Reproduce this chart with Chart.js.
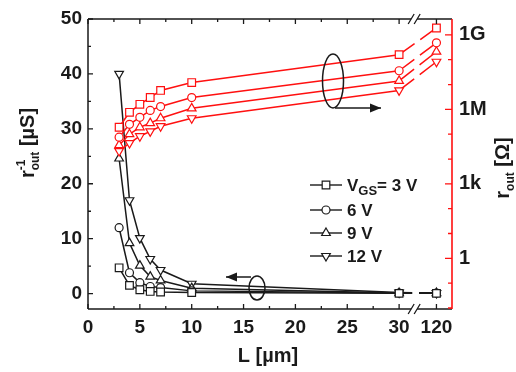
<!DOCTYPE html>
<html><head><meta charset="utf-8">
<script src="https://cdn.jsdelivr.net/npm/chart.js@4.4.0/dist/chart.umd.min.js"></script>
<style>html,body{margin:0;padding:0;background:#fff}#wrap{width:516px;height:372px}</style>
</head><body><div id="wrap"><canvas id="c" width="516" height="372"></canvas></div>
<script>
// ---- data ----
const L_UM = [3, 4, 5, 6, 7, 10, 30, 120];
// r_out^-1 [µS] (left axis, black)
const G_3V  = [4.7, 1.5, 0.7, 0.4, 0.3, 0.2, 0.05, 0.05];
const G_6V  = [12.0, 3.8, 2.0, 1.3, 1.1, 0.5, 0.1, 0.1];
const G_9V  = [24.6, 9.2, 5.1, 3.1, 2.4, 1.0, 0.1, 0.1];
const G_12V = [40.0, 17.0, 10.1, 6.3, 4.3, 1.8, 0.2, 0.1];
// r_out [Ohm] (right log axis, red)
const R_3V  = [1.9e5, 7.6e5, 1.6e6, 3.0e6, 5.8e6, 1.2e7, 1.6e8, 1.9e9];
const R_6V  = [7.6e4, 2.5e5, 4.8e5, 9.1e5, 1.3e6, 3.0e6, 3.6e7, 4.8e8];
const R_9V  = [3.6e4, 1.0e5, 1.9e5, 2.8e5, 4.4e5, 1.1e6, 1.4e7, 2.1e8];
const R_12V = [2.1e4, 4.4e4, 8.3e4, 1.3e5, 2.1e5, 4.4e5, 5.8e6, 8.3e7];
const X_TICKS = [0, 5, 10, 15, 20, 25, 30, 120];
const Y_TICKS = [0, 10, 20, 30, 40, 50];
const R_TICKS = [1, 1e3, 1e6, 1e9];
const R_TICK_LABELS = ['1', '1k', '1M', '1G'];
const VGS_LABELS = ['3 V', '6 V', '9 V', '12 V'];

// broken x axis: values above 30 are compressed
const BREAK_FROM = 30, BREAK_SCALE = 0.04;
function xPos(L) { return L <= BREAK_FROM ? L : BREAK_FROM + (L - BREAK_FROM) * BREAK_SCALE; }
const BREAK_POS = 31.45;

const STYLES = [
  {ps: 'rect', r: 5.4, rot: 0},
  {ps: 'circle', r: 4.0, rot: 0},
  {ps: 'triangle', r: 5.0, rot: 0},
  {ps: 'triangle', r: 5.0, rot: 180}
];
const RED = '#ff1010', BLK = '#1a1a1a';
const FONT = '"Liberation Sans", Arial, sans-serif';

function mk(vals, i, color, axis, dash) {
  const s = STYLES[i];
  return {
    data: L_UM.map((L, k) => ({x: xPos(L), y: vals[k]})),
    yAxisID: axis,
    borderColor: color, backgroundColor: '#fff',
    borderWidth: 1.5, pointBorderWidth: 1.2,
    pointStyle: s.ps, pointRadius: s.r, pointRotation: s.rot,
    pointBackgroundColor: '#fff', pointBorderColor: color,
    tension: 0,
    segment: { borderDash: c => c.p1DataIndex === L_UM.length - 1 ? dash : undefined }
  };
}
const redDash = [19, 7, 200, 0], blkDash = [13, 7, 200, 0];
const datasets = [
  mk(R_3V, 0, RED, 'y2', redDash), mk(R_6V, 1, RED, 'y2', redDash),
  mk(R_9V, 2, RED, 'y2', redDash), mk(R_12V, 3, RED, 'y2', redDash),
  mk(G_3V, 0, BLK, 'y', blkDash), mk(G_6V, 1, BLK, 'y', blkDash),
  mk(G_9V, 2, BLK, 'y', blkDash), mk(G_12V, 3, BLK, 'y', blkDash)
];

function drawMarker(ctx, s, x, y, color) {
  ctx.save();
  ctx.strokeStyle = color; ctx.fillStyle = '#fff'; ctx.lineWidth = 1.2;
  ctx.beginPath();
  if (s.ps === 'rect') { const h = s.r * Math.SQRT1_2; ctx.rect(x - h, y - h, 2 * h, 2 * h); }
  else if (s.ps === 'circle') { ctx.arc(x, y, s.r, 0, Math.PI * 2); }
  else {
    const r = s.r, dir = s.rot ? -1 : 1;
    ctx.moveTo(x, y - dir * r);
    ctx.lineTo(x + r * 0.866, y + dir * r * 0.5);
    ctx.lineTo(x - r * 0.866, y + dir * r * 0.5);
    ctx.closePath();
  }
  ctx.fill(); ctx.stroke(); ctx.restore();
}

function richText(ctx, parts, x, y, align) {
  let total = 0; const widths = [];
  for (let i = 0; i < parts.length; i++) {
    const p = parts[i];
    ctx.font = 'bold ' + p.size + 'px ' + FONT;
    widths.push(ctx.measureText(p.t).width);
  }
  for (let i = 0; i < parts.length; i++) {
    if (parts[i].stack) { total += Math.max(widths[i], widths[i + 1]); i++; }
    else total += widths[i];
  }
  let cx = align === 'center' ? x - total / 2 : x;
  for (let i = 0; i < parts.length; i++) {
    const p = parts[i];
    ctx.font = 'bold ' + p.size + 'px ' + FONT;
    ctx.fillText(p.t, cx, y + (p.dy || 0));
    if (p.stack) {
      const q = parts[i + 1];
      ctx.font = 'bold ' + q.size + 'px ' + FONT;
      ctx.fillText(q.t, cx, y + (q.dy || 0));
      cx += Math.max(widths[i], widths[i + 1]); i++;
    } else cx += widths[i];
  }
}

function arrow(ctx, x1, y1, x2, y2) {
  ctx.beginPath(); ctx.moveTo(x1, y1); ctx.lineTo(x2, y2); ctx.stroke();
  const ang = Math.atan2(y2 - y1, x2 - x1), len = 11, w = 4.5;
  ctx.beginPath();
  ctx.moveTo(x2, y2);
  ctx.lineTo(x2 - len * Math.cos(ang) + w * Math.sin(ang), y2 - len * Math.sin(ang) - w * Math.cos(ang));
  ctx.lineTo(x2 - len * Math.cos(ang) - w * Math.sin(ang), y2 - len * Math.sin(ang) + w * Math.cos(ang));
  ctx.closePath(); ctx.fill();
}

const deco = {
  id: 'deco',
  afterDraw(chart) {
    const ctx = chart.ctx, a = chart.chartArea;
    const xs = chart.scales.x, ys = chart.scales.y, y2 = chart.scales.y2;
    ctx.save();
    ctx.lineCap = 'butt';
    const bx = xs.getPixelForValue(BREAK_POS);
    ctx.strokeStyle = BLK; ctx.lineWidth = 1.5;
    ctx.beginPath();
    ctx.moveTo(a.left, a.top); ctx.lineTo(a.left, a.bottom);
    ctx.moveTo(a.left, a.bottom); ctx.lineTo(bx - 3, a.bottom);
    ctx.moveTo(bx + 3, a.bottom); ctx.lineTo(a.right, a.bottom);
    ctx.moveTo(a.left, a.top); ctx.lineTo(bx - 3, a.top);
    ctx.moveTo(bx + 3, a.top); ctx.lineTo(a.right, a.top);
    ctx.stroke();
    ctx.lineWidth = 1.3;
    ctx.beginPath();
    for (const yy of [a.top, a.bottom]) {
      for (const dx of [-3, 3]) {
        ctx.moveTo(bx + dx - 3, yy + 5); ctx.lineTo(bx + dx + 3, yy - 5);
      }
    }
    ctx.stroke();
    ctx.lineWidth = 1.3;
    ctx.beginPath();
    const xt = [];
    for (let v = 0; v <= 30; v += 2.5) xt.push({v: v, major: v % 5 === 0});
    xt.push({v: xPos(120), major: true});
    for (const t of xt) {
      const px = xs.getPixelForValue(t.v), len = t.major ? 5 : 3;
      ctx.moveTo(px, a.bottom); ctx.lineTo(px, a.bottom - len);
      ctx.moveTo(px, a.top); ctx.lineTo(px, a.top + len);
    }
    for (let v = 0; v <= 50; v += 5) {
      const py = ys.getPixelForValue(v), len = v % 10 === 0 ? 5 : 3;
      ctx.moveTo(a.left, py); ctx.lineTo(a.left + len, py);
    }
    ctx.stroke();
    ctx.strokeStyle = RED; ctx.lineWidth = 1.6;
    ctx.beginPath(); ctx.moveTo(a.right, a.top); ctx.lineTo(a.right, a.bottom); ctx.stroke();
    ctx.lineWidth = 1.3; ctx.beginPath();
    for (let e = -2; e <= 9; e++) {
      const py = y2.getPixelForValue(Math.pow(10, e)), len = e % 3 === 0 ? 7 : 4;
      ctx.moveTo(a.right, py); ctx.lineTo(a.right - len, py);
    }
    ctx.stroke();

    // legend
    const lx0 = 310, lx1 = 342, tx = 347;
    const rows = [185, 210, 233, 256];
    ctx.fillStyle = BLK; ctx.textBaseline = 'middle';
    for (let i = 0; i < 4; i++) {
      ctx.strokeStyle = BLK; ctx.lineWidth = 1.4;
      ctx.beginPath(); ctx.moveTo(lx0, rows[i]); ctx.lineTo(lx1, rows[i]); ctx.stroke();
      drawMarker(ctx, STYLES[i], (lx0 + lx1) / 2, rows[i], BLK);
      ctx.fillStyle = BLK; ctx.textAlign = 'left';
      if (i === 0) {
        richText(ctx, [{t: 'V', size: 17}, {t: 'GS', size: 13, dy: 5}, {t: '= ' + VGS_LABELS[0], size: 17}], tx, rows[i] + 1, 'left');
      } else {
        ctx.font = 'bold 17px ' + FONT;
        ctx.fillText(VGS_LABELS[i], tx, rows[i] + 1);
      }
    }

    // annotations
    ctx.strokeStyle = BLK; ctx.fillStyle = BLK; ctx.lineWidth = 1.5;
    ctx.beginPath(); ctx.ellipse(333, 81, 10.5, 27, 0, 0, Math.PI * 2); ctx.stroke();
    arrow(ctx, 335, 108, 381, 108);
    ctx.beginPath(); ctx.ellipse(257, 288, 8, 12, 0, 0, Math.PI * 2); ctx.stroke();
    arrow(ctx, 251, 277, 226, 277);

    // axis titles
    ctx.fillStyle = BLK; ctx.textBaseline = 'alphabetic'; ctx.textAlign = 'left';
    ctx.save();
    ctx.translate(34, 143); ctx.rotate(-Math.PI / 2);
    richText(ctx, [{t: 'r', size: 20}, {t: 'out', size: 12, dy: 5, stack: true}, {t: '-1', size: 12, dy: -9}, {t: ' [\u00b5S]', size: 20}], 0, 0, 'center');
    ctx.restore();
    ctx.save();
    ctx.translate(509, 168); ctx.rotate(-Math.PI / 2);
    richText(ctx, [{t: 'r', size: 20}, {t: 'out', size: 12, dy: 5}, {t: ' [\u03a9]', size: 20}], 0, 0, 'center');
    ctx.restore();
    ctx.font = 'bold 20px ' + FONT; ctx.textAlign = 'center'; ctx.textBaseline = 'middle';
    ctx.fillText('L [\u00b5m]', 268, 356);
    ctx.restore();
  }
};

const tickFont = {family: FONT, size: 19, weight: 'bold'};
new Chart(document.getElementById('c'), {
  type: 'line',
  data: {datasets: datasets},
  plugins: [deco],
  options: {
    responsive: false, animation: false, devicePixelRatio: 1,
    layout: {padding: {top: 17, left: 0, right: 0, bottom: 0}},
    plugins: {legend: {display: false}, tooltip: {enabled: false}},
    scales: {
      x: {
        type: 'linear', min: 0, max: 35.1,
        afterBuildTicks: s => { s.ticks = X_TICKS.map(v => ({value: xPos(v)})); },
        afterFit: s => { s.height = 63; },
        grid: {display: false, drawTicks: false}, border: {display: false},
        ticks: {autoSkip: false, maxRotation: 0, padding: 7, color: BLK, font: tickFont,
          callback: (v, i) => String(X_TICKS[i])}
      },
      y: {
        position: 'left', min: -2.8, max: 50,
        afterBuildTicks: s => { s.ticks = Y_TICKS.map(v => ({value: v})); },
        afterFit: s => { s.width = 88; },
        grid: {display: false, drawTicks: false}, border: {display: false},
        ticks: {padding: 6, color: BLK, font: tickFont, callback: v => String(v)}
      },
      y2: {
        type: 'logarithmic', position: 'right',
        min: Math.pow(10, -2.04), max: Math.pow(10, 9.64),
        afterBuildTicks: s => { s.ticks = R_TICKS.map(v => ({value: v})); },
        afterFit: s => { s.width = 64; },
        grid: {display: false, drawTicks: false}, border: {display: false},
        ticks: {padding: 7, color: BLK, font: {family: FONT, size: 20, weight: 'bold'},
          callback: (v) => R_TICK_LABELS[R_TICKS.indexOf(v)] || ''}
      }
    }
  }
});
</script>
</body></html>
